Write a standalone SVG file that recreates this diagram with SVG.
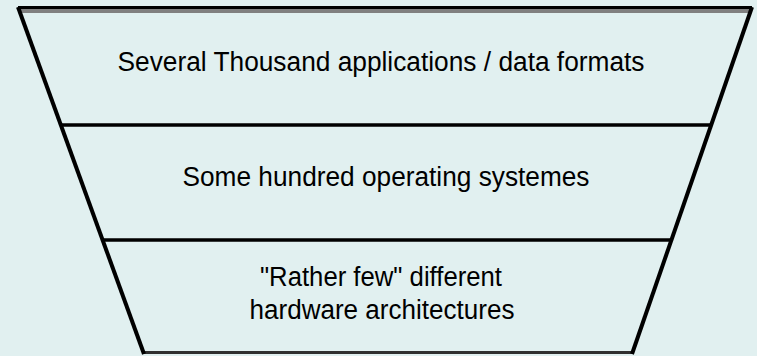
<svg xmlns="http://www.w3.org/2000/svg" width="757" height="356" viewBox="0 0 757 356">
  <style>
    .band { fill: #E1F0F0; stroke: none; }
    .edge { stroke: #000000; stroke-width: 4; fill: none; stroke-linecap: butt; }
    .sep { stroke: #000000; stroke-width: 3.5; fill: none; }
    .lbl { font-family: "Liberation Sans", Arial, sans-serif; font-size: 27px; fill: #000000; text-anchor: middle; }
  </style>
  <rect x="0" y="0" width="757" height="356" fill="#E1F0F0"/>
  <g id="layer-applications">
    <polygon class="band" points="18,8 752,8 711.3,125 60.7,125"/>
    <text class="lbl" x="381" y="71" textLength="527" lengthAdjust="spacingAndGlyphs">Several Thousand applications / data formats</text>
  </g>
  <g id="layer-os">
    <polygon class="band" points="60.7,125 711.3,125 671.3,240 102.7,240"/>
    <text class="lbl" x="386" y="186" textLength="407" lengthAdjust="spacingAndGlyphs">Some hundred operating systemes</text>
  </g>
  <g id="layer-hardware">
    <polygon class="band" points="102.7,240 671.3,240 632.3,352 143.6,352"/>
    <text class="lbl" x="381" y="286" textLength="242" lengthAdjust="spacingAndGlyphs">"Rather few" different</text>
    <text class="lbl" x="382" y="319" textLength="265" lengthAdjust="spacingAndGlyphs">hardware architectures</text>
  </g>
  <g id="connectors">
    <line class="sep" x1="18" y1="11" x2="752" y2="11" style="stroke:#808080;stroke-width:4"/>
    <line class="sep" x1="18" y1="7.5" x2="752" y2="7.5" style="stroke-width:3"/>
    <line class="sep" x1="60.7" y1="125" x2="711.3" y2="125"/>
    <line class="sep" x1="102.7" y1="240" x2="671.3" y2="240"/>
    <line class="sep" x1="143.6" y1="352.5" x2="632.3" y2="352.5" style="stroke:#303030;stroke-width:3"/>
    <line class="edge" x1="18" y1="7" x2="144" y2="354"/>
    <line class="edge" x1="752" y1="7" x2="632" y2="354"/>
  </g>
</svg>
